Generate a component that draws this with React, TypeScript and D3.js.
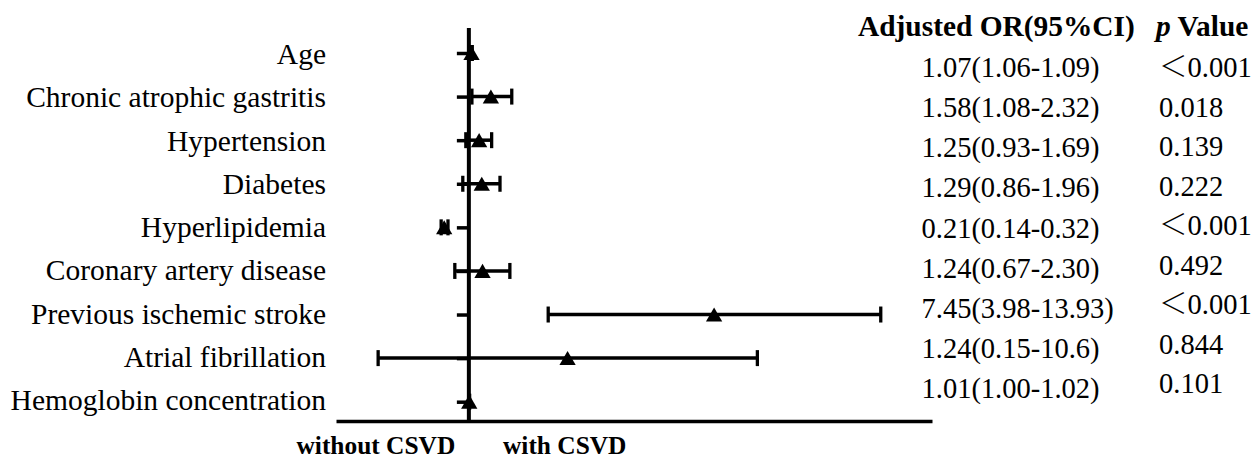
import { useEffect, useRef } from "react";
import * as d3 from "d3";

const categories = [
  "Age",
  "Chronic atrophic gastritis",
  "Hypertension",
  "Diabetes",
  "Hyperlipidemia",
  "Coronary artery disease",
  "Previous ischemic stroke",
  "Atrial fibrillation",
  "Hemoglobin concentration",
];

// plotted positions (x units, 1 = reference line)
const estimate = [1.07, 1.58, 1.27, 1.34, 0.35, 1.36, 7.46, 3.6, 1.01];
const lower = [1.06, 1.08, 0.92, 0.84, 0.27, 0.63, 3.09, -1.39, 1.0];
const upper = [1.09, 2.13, 1.6, 1.82, 0.45, 2.08, 11.85, 8.6, 1.02];

const orText = [
  "1.07(1.06-1.09)",
  "1.58(1.08-2.32)",
  "1.25(0.93-1.69)",
  "1.29(0.86-1.96)",
  "0.21(0.14-0.32)",
  "1.24(0.67-2.30)",
  "7.45(3.98-13.93)",
  "1.24(0.15-10.6)",
  "1.01(1.00-1.02)",
];
const pText = ["＜0.001", "0.018", "0.139", "0.222", "＜0.001", "0.492", "＜0.001", "0.844", "0.101"];

const FONT = "'Times New Roman', 'Liberation Serif', serif";

function ForestPlot() {
  const svgRef = useRef<SVGSVGElement>(null);

  useEffect(() => {
    const width = 1255;
    const height = 459;

    d3.select(svgRef.current).selectAll("*").remove();
    const svg = d3
      .select(svgRef.current)
      .attr("width", width)
      .attr("height", height)
      .style("font-family", FONT);

    svg.append("rect").attr("width", width).attr("height", height).attr("fill", "#fff");

    // Scales
    const x = d3.scaleLinear().domain([-2.5, 13.2]).range([336, 932]);
    const y = d3.scalePoint<string>().domain(categories).range([53, 401.7]);
    const labelY = d3.scalePoint<string>().domain(categories).range([64, 410]);
    const orY = d3.scalePoint<string>().domain(categories).range([77, 398]);
    const pY = d3.scalePoint<string>().domain(categories).range([77, 393]);
    const axisTop = 28;
    const axisBottom = 421;

    // Bottom axis line
    svg
      .append("g")
      .attr("transform", `translate(0,${axisBottom})`)
      .call(d3.axisBottom(x).ticks(0).tickSizeOuter(0))
      .call((g) => g.select(".domain").attr("stroke", "#000").attr("stroke-width", 3.5));

    // Reference line at 1
    svg
      .append("line")
      .attr("x1", x(1))
      .attr("x2", x(1))
      .attr("y1", axisTop)
      .attr("y2", axisBottom)
      .attr("stroke", "#000")
      .attr("stroke-width", 4);

    // Row ticks
    svg
      .append("g")
      .attr("transform", `translate(${x(1)},0)`)
      .call(d3.axisLeft(y).tickSize(12).tickSizeOuter(0).tickFormat(() => ""))
      .call((g) => g.select(".domain").remove())
      .call((g) => g.selectAll(".tick line").attr("stroke", "#000").attr("stroke-width", 3.5));

    const rows = categories.map((c, i) => ({
      c,
      est: estimate[i],
      lo: lower[i],
      hi: upper[i],
    }));

    // CI lines
    const ci = svg.append("g").attr("stroke", "#000");
    ci.selectAll("line.ci")
      .data(rows)
      .enter()
      .append("line")
      .attr("class", "ci")
      .attr("x1", (d) => x(d.lo))
      .attr("x2", (d) => x(d.hi))
      .attr("y1", (d) => y(d.c)!)
      .attr("y2", (d) => y(d.c)!)
      .attr("stroke-width", 3.5);

    // caps
    ["lo", "hi"].forEach((k) => {
      ci.selectAll(`line.cap-${k}`)
        .data(rows)
        .enter()
        .append("line")
        .attr("class", `cap-${k}`)
        .attr("x1", (d: any) => x(d[k]))
        .attr("x2", (d: any) => x(d[k]))
        .attr("y1", (d) => y(d.c)! - 8)
        .attr("y2", (d) => y(d.c)! + 8)
        .attr("stroke-width", 3.3);
    });

    // Triangles
    const tri = d3.symbol().type(d3.symbolTriangle).size(115);
    svg
      .append("g")
      .selectAll("path")
      .data(rows)
      .enter()
      .append("path")
      .attr("d", tri)
      .attr("transform", (d) => `translate(${x(d.est)},${y(d.c)! + 2.3})`)
      .attr("fill", "#000");

    // Row labels
    svg
      .append("g")
      .selectAll("text")
      .data(categories)
      .enter()
      .append("text")
      .attr("x", 326)
      .attr("y", (d) => labelY(d)!)
      .attr("text-anchor", "end")
      .attr("font-size", 29.5)
      .attr("fill", "#000")
      .text((d) => d);

    // Table headers
    svg
      .append("text")
      .attr("x", 858)
      .attr("y", 36)
      .attr("font-size", 29.4)
      .attr("font-weight", "bold")
      .text("Adjusted OR(95%CI)");

    const pHead = svg
      .append("text")
      .attr("x", 1156)
      .attr("y", 36)
      .attr("font-size", 29.4)
      .attr("font-weight", "bold");
    pHead.append("tspan").attr("font-style", "italic").text("p");
    pHead.append("tspan").text(" Value");

    svg
      .append("g")
      .selectAll("text")
      .data(categories)
      .enter()
      .append("text")
      .attr("x", 921.5)
      .attr("y", (d) => orY(d)!)
      .attr("font-size", 28.5)
      .text((d, i) => orText[i]);

    // p values; the full-width "＜" is set in a CJK font like the original
    svg
      .append("g")
      .selectAll("text")
      .data(categories)
      .enter()
      .append("text")
      .attr("x", 1159)
      .attr("y", (d) => pY(d)!)
      .attr("font-size", 28.5)
      .each(function (d, i) {
        const t = d3.select(this);
        const s = pText[i];
        if (s.startsWith("＜")) {
          t.append("tspan").attr("font-family", "'Noto Sans CJK SC', sans-serif").attr("font-weight", 300).text("＜");
          t.append("tspan").text(s.slice(1));
        } else {
          t.text(s);
        }
      });

    // Direction labels
    svg
      .append("text")
      .attr("x", 296.5)
      .attr("y", 454)
      .attr("font-size", 25.4)
      .attr("font-weight", "bold")
      .text("without CSVD");

    svg
      .append("text")
      .attr("x", 503)
      .attr("y", 454)
      .attr("font-size", 25.4)
      .attr("font-weight", "bold")
      .text("with CSVD");
  }, []);

  return <svg ref={svgRef} style={{ position: "absolute", left: 0, top: 0, display: "block" }}></svg>;
}

export default function App() {
  return <ForestPlot />;
}
